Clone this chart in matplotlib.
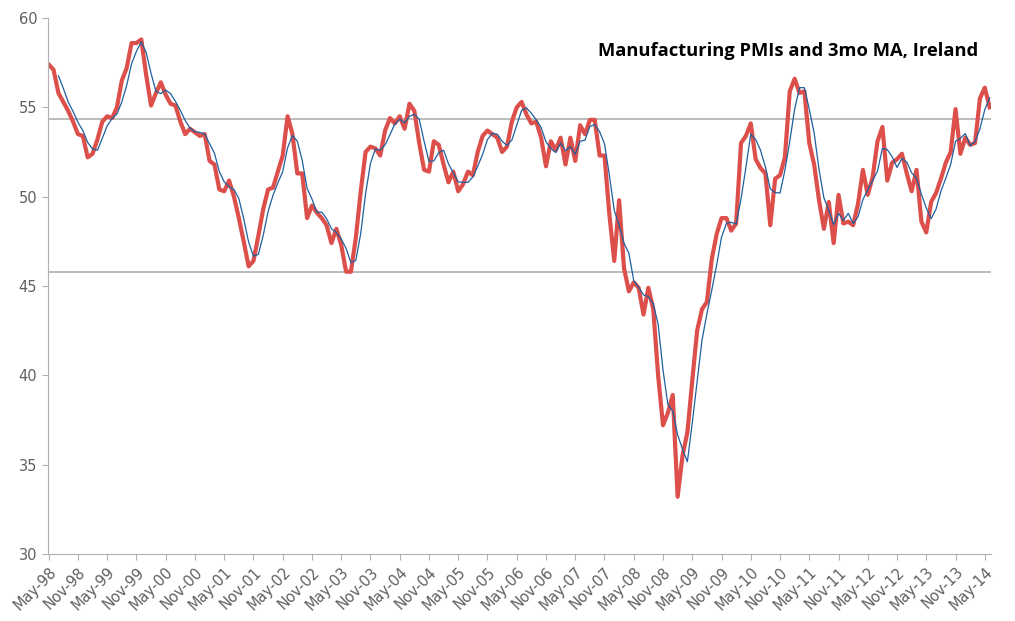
import matplotlib.pyplot as plt
import pandas as pd

# Irish manufacturing PMI, monthly May-98 to Jun-14
pmi = [57.4, 57.1, 55.8, 55.3, 54.8, 54.2, 53.5, 53.4,
       52.2, 52.4, 53.2, 54.2, 54.5, 54.4, 55.0, 56.5, 57.2, 58.6, 58.6, 58.8,
       56.8, 55.1, 55.8, 56.4, 55.7, 55.2, 55.1, 54.2, 53.5, 53.8, 53.6, 53.4,
       53.5, 52.0, 51.8, 50.4, 50.3, 50.9, 50.0, 48.8, 47.5, 46.1, 46.4, 47.8,
       49.3, 50.4, 50.5, 51.4, 52.3, 54.5, 53.5, 51.3, 51.3, 48.8, 49.5, 49.1,
       48.8, 48.4, 47.4, 48.2, 47.3, 45.8, 45.8, 47.7, 50.3, 52.5, 52.8, 52.7,
       52.3, 53.7, 54.4, 54.1, 54.5, 53.8, 55.2, 54.8, 53.0, 51.5, 51.4, 53.1,
       52.9, 51.8, 50.8, 51.4, 50.3, 50.7, 51.4, 51.2, 52.5, 53.4, 53.7, 53.5,
       53.3, 52.5, 52.8, 54.2, 55.0, 55.3, 54.6, 54.1, 54.2, 53.3, 51.7, 53.1,
       52.6, 53.3, 51.8, 53.3, 52.0, 54.0, 53.5, 54.3, 54.3, 52.3, 52.3, 49.0,
       46.4, 49.8, 46.0, 44.7, 45.2, 44.9, 43.4, 44.9, 43.7, 40.0, 37.2, 37.9,
       38.9, 33.2, 35.5, 36.8, 39.7, 42.5, 43.7, 44.1, 46.5, 47.9, 48.8, 48.8,
       48.1, 48.5, 53.0, 53.4, 54.1, 52.1, 51.6, 51.3, 48.4, 51.0, 51.2, 52.2,
       55.9, 56.6, 55.8, 55.9, 53.0, 51.8, 49.8, 48.2, 49.7, 47.4, 50.1, 48.5,
       48.6, 48.4, 49.6, 51.5, 50.1, 51.1, 53.1, 53.9, 50.9, 51.9, 52.1, 52.4,
       51.3, 50.3, 51.5, 48.6, 48.0, 49.7, 50.2, 51.0, 51.9, 52.5, 54.9, 52.4,
       53.3, 52.9, 53.0, 55.5, 56.1, 55.0]
dates = pd.date_range('1998-05-01', periods=len(pmi), freq='MS')
ma3 = pd.Series(pmi).rolling(3).mean()
upper_band = 54.35
lower_band = 45.8

fig = plt.figure(figsize=(10.15, 6.21), dpi=100)
ax = fig.add_axes([0.047, 0.108, 0.929, 0.863])
x = list(range(len(pmi)))
ax.axhline(upper_band, color='#b0b0b0', lw=1.2, zorder=1)
ax.axhline(lower_band, color='#b0b0b0', lw=1.2, zorder=1)
ax.plot(x, pmi, color='#dc4f4a', lw=3, zorder=2)
ax.plot(x, ma3, color='#1f5fa0', lw=0.9, zorder=3)

ax.set_ylim(30, 60)
ax.set_xlim(-0.2, len(pmi) - 0.8)
ax.set_yticks(range(30, 61, 5))
ticks = x[::6]
ax.set_xticks(ticks)
ax.set_xticklabels([dates[i].strftime('%b-%y') for i in ticks], rotation=45,
                   ha='right', rotation_mode='anchor')
ax.tick_params(colors='#606060', labelsize=10.5, length=4, color='#b0b0b0')
for s in ['top', 'right']:
    ax.spines[s].set_visible(False)
for s in ['left', 'bottom']:
    ax.spines[s].set_color('#b0b0b0')
ax.text(0.987, 0.955, 'Manufacturing PMIs and 3mo MA, Ireland', transform=ax.transAxes,
        ha='right', va='top', fontsize=13.2, fontweight='bold', family='Open Sans')

fig.savefig('out.png')
